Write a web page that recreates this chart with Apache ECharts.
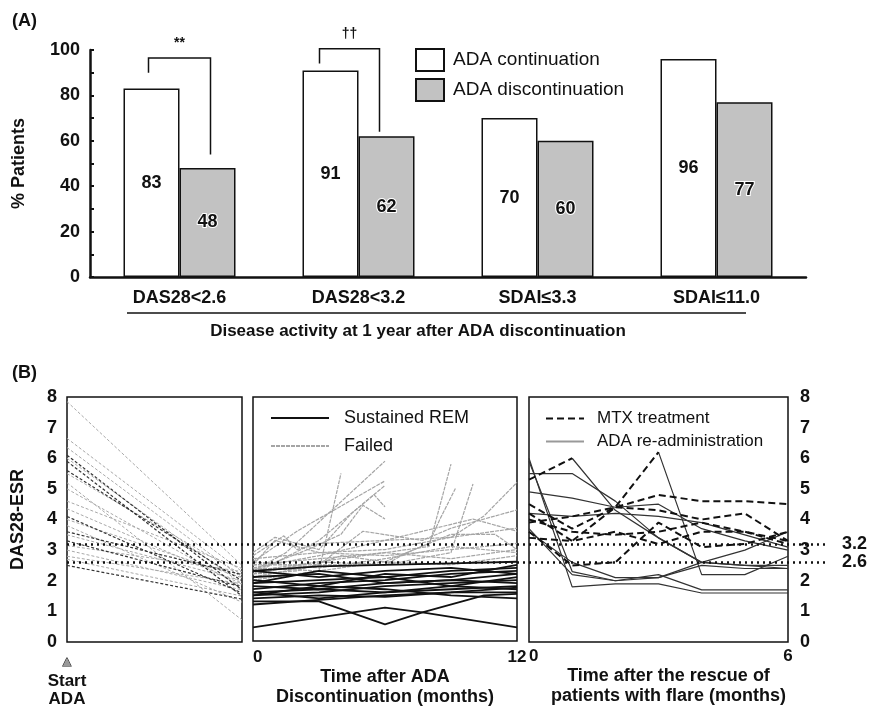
<!DOCTYPE html>
<html>
<head>
<meta charset="utf-8">
<script src="https://cdn.jsdelivr.net/npm/echarts@6/dist/echarts.min.js"></script>
<style>
  html, body { margin: 0; padding: 0; background: #fff; }
  #main { width: 870px; height: 708px; }
</style>
</head>
<body>
<div id="main"></div>
<script>
// (A) bar data
var categories = ["DAS28<2.6", "DAS28<3.2", "SDAI≤3.3", "SDAI≤11.0"];
var contValues = [83, 91, 70, 96];
var discValues = [48, 62, 60, 77];
// significance brackets: left leg end, top, right leg end (in % units)
var brackets = [
  { cat: 0, left: 90, top: 96.5, right: 54, mark: "**" },
  { cat: 1, left: 94, top: 100.5, right: 64, mark: "††" }
];

// (B) left panel: DAS28 at start ADA -> at discontinuation
var startDark = [[6.1, 1.7], [5.9, 1.5], [5.6, 2.0], [4.1, 1.6], [3.6, 2.2], [3.3, 1.8], [2.5, 1.4]];
var startLight = [[7.85, 2.5], [6.65, 2.3], [6.35, 2.1], [6.0, 1.9], [5.5, 2.2], [5.2, 0.72], [5.0, 1.8],
  [4.6, 2.4], [4.35, 1.9], [4.0, 2.1], [3.8, 1.3], [3.5, 2.0], [3.15, 2.3], [3.0, 1.7], [2.8, 1.9], [2.7, 1.5]];

// (B) middle panel: months after discontinuation
var remLines = [
  [[0, 0.45], [6, 1.1], [7.7, 0.94], [12, 0.45]],
  [[0, 1.3], [3, 1.3], [6, 0.55], [7.7, 0.94], [10.5, 1.5], [12, 1.55]],
  [[0, 1.5], [3, 1.6], [6, 1.8], [9, 1.9], [12, 2.0]],
  [[0, 1.6], [3, 1.7], [6, 1.6], [9, 1.8], [12, 1.7]],
  [[0, 1.7], [3, 1.9], [6, 2.0], [9, 2.2], [12, 2.3]],
  [[0, 1.9], [3, 2.0], [6, 2.1], [9, 2.3], [12, 2.4]],
  [[0, 2.0], [3, 1.8], [6, 2.2], [9, 2.1], [12, 2.5]],
  [[0, 2.3], [3, 2.45], [6, 2.5], [9, 2.55], [12, 2.6]],
  [[0, 1.4], [3, 1.5], [6, 1.45], [9, 1.6], [12, 1.6]],
  [[0, 1.8], [3, 1.7], [6, 1.9], [9, 2.0], [12, 1.9]],
  [[0, 2.1], [3, 2.2], [6, 1.9], [9, 2.0], [12, 2.2]],
  [[0, 1.6], [3, 1.4], [6, 1.6], [9, 1.7], [12, 1.8]],
  [[0, 2.3], [3, 2.1], [6, 2.3], [9, 2.4], [12, 2.2]],
  [[0, 1.5], [3, 1.8], [6, 1.7], [9, 1.5], [12, 1.4]],
  [[0, 1.9], [3, 2.3], [6, 2.1], [9, 1.8], [12, 2.1]],
  [[0, 1.2], [3, 1.35], [6, 1.5], [9, 1.6], [12, 1.75]]
];
var failedLines = [
  [[0, 2.4], [3, 2.3], [4, 5.5]],
  [[0, 2.3], [1.5, 2.9], [6, 5.9]],
  [[0, 2.6], [2, 3.6], [6, 5.25]],
  [[0, 2.2], [3, 3.3], [6, 5.1]],
  [[0, 2.5], [3, 2.7], [6, 2.9], [8, 3.1], [9, 5.8]],
  [[0, 2.2], [3, 2.6], [6, 2.5], [9, 2.9], [10, 5.15]],
  [[0, 2.7], [3, 2.9], [6, 3.0], [9, 3.4], [10.5, 4.1], [12, 5.2]],
  [[0, 2.4], [3, 2.8], [6, 3.3], [10, 4.0], [12, 3.6]],
  [[0, 2.3], [2.5, 3.0], [4, 3.5], [5, 4.45], [6, 4.0]],
  [[0, 2.8], [1.4, 3.45], [2, 3.0], [3, 3.2], [6, 3.3], [9, 3.4], [12, 3.7]],
  [[0, 2.5], [1, 3.3], [3, 2.9], [6, 2.8], [9, 3.0], [12, 3.2]],
  [[0, 2.3], [3, 2.6], [6, 2.9], [9, 2.7], [12, 3.0]],
  [[0, 2.6], [3, 2.4], [6, 2.7], [9, 3.1], [12, 2.9]],
  [[0, 2.1], [3, 2.5], [5, 3.6], [7.7, 3.3], [9, 3.7], [12, 4.3]],
  [[0, 2.2], [2, 2.3], [4, 2.8], [6, 2.6], [8, 3.2], [8.5, 4.0], [9.2, 5.0]],
  [[0, 2.9], [1, 3.4], [3, 3.0], [4.5, 4.2], [5.5, 4.8], [6, 4.4]],
  [[0, 2.0], [3, 2.3], [6, 2.6], [9, 2.5], [12, 2.8]],
  [[0, 2.5], [6, 2.5], [7, 2.9], [9, 3.5], [11, 3.5], [12, 3.0]]
];

// (B) right panel: months after rescue
var mtxLines = [
  [[0, 4.5], [1, 3.7], [2, 4.4], [3, 4.8], [4, 4.6], [5, 4.6], [6, 4.5]],
  [[0, 5.3], [1, 6.0]],
  [[0, 4.2], [1, 3.3], [2, 3.6], [3, 3.2], [4, 3.6], [5, 3.6], [6, 3.3]],
  [[0, 3.9], [1, 4.1], [2, 4.4], [3, 4.3], [4, 4.0], [5, 4.2], [6, 3.3]],
  [[0, 3.6], [1, 2.5], [2, 2.6], [3, 3.9], [4, 3.1], [5, 3.2], [6, 3.6]],
  [[0, 4.0], [1, 3.6], [2, 3.5], [3, 3.6], [4, 3.9], [5, 3.6], [6, 3.2]],
  [[0, 3.4], [1, 3.3], [2, 4.4], [3, 6.2]]
];
var adaLines = [
  [[0, 6.0], [1, 1.8], [2, 1.9], [3, 1.9], [4, 1.6], [5, 1.6], [6, 1.6]],
  [[0, 5.9], [1, 2.3], [2, 2.0], [3, 2.1], [4, 2.5], [5, 2.4], [6, 2.4]],
  [[0, 5.5], [1, 5.5], [2, 4.6], [3, 3.4], [4, 2.6], [5, 3.0], [6, 3.6]],
  [[0, 4.9], [1, 4.7], [2, 4.4], [3, 4.5], [4, 3.7], [5, 3.3], [6, 3.0]],
  [[0, 3.6], [1, 2.6], [2, 2.1], [3, 2.1], [4, 2.6], [5, 2.5], [6, 2.5]],
  [[0, 3.7], [1, 2.2], [2, 2.0], [3, 2.2], [4, 1.7], [5, 1.7], [6, 1.7]],
  [[1, 6.0], [2, 4.3], [3, 3.4], [4, 2.6], [5, 2.5], [6, 2.4]],
  [[3, 6.2], [4, 2.2], [5, 2.2], [6, 2.8]],
  [[0, 4.2], [1, 4.1], [2, 4.2], [3, 4.1], [4, 3.9], [5, 3.5], [6, 3.1]]
];
var refLevels = [3.2, 2.6];

var FONT = "'Liberation Sans', Arial, sans-serif";
var chart = echarts.init(document.getElementById("main"));

var series = [];
// bars
series.push({
  name: "ADA continuation", type: "bar", xAxisIndex: 0, yAxisIndex: 0,
  barWidth: 56, barGap: "0%", data: contValues,
  itemStyle: { color: "#fff", borderColor: "#111", borderWidth: 1.5 },
  label: { show: true, position: "inside", color: "#111", fontWeight: "bold", fontSize: 18, fontFamily: FONT }
});
series.push({
  name: "ADA discontinuation", type: "bar", xAxisIndex: 0, yAxisIndex: 0,
  barWidth: 56, data: discValues,
  itemStyle: { color: "#c2c2c2", borderColor: "#111", borderWidth: 1.5 },
  label: { show: true, position: "inside", color: "#111", fontWeight: "bold", fontSize: 18, fontFamily: FONT,
    textBorderColor: "#fff", textBorderWidth: 2 }
});

function addLines(list, axis, name, style) {
  list.forEach(function (pts) {
    series.push({
      name: name, type: "line", xAxisIndex: axis, yAxisIndex: axis,
      data: pts, symbol: "none", silent: true, animation: false,
      lineStyle: style, itemStyle: { color: style.color }
    });
  });
}
addLines(startLight.map(function (d) { return [[0, d[0]], [1, d[1]]]; }), 1, "startL",
  { color: "#a8a8a8", width: 1, type: [3, 2] });
addLines(startDark.map(function (d) { return [[0, d[0]], [1, d[1]]]; }), 1, "startD",
  { color: "#333", width: 1.2, type: [3, 2] });
addLines(failedLines, 2, "Failed", { color: "#a5a5a5", width: 1.2, type: [4, 1] });
addLines(remLines, 2, "Sustained REM", { color: "#111", width: 1.8 });
addLines(adaLines, 3, "ADA re-administration", { color: "#333", width: 1.2 });
addLines(mtxLines, 3, "MTX treatment", { color: "#111", width: 2, type: [7, 4] });

// dotted reference levels across panel B
series.push({
  type: "scatter", xAxisIndex: 4, yAxisIndex: 4, data: [], silent: true,
  markLine: {
    symbol: "none", silent: true, animation: false,
    lineStyle: { color: "#111", width: 2.5, type: [2, 4] },
    label: { position: "end", distance: 14, formatter: "{c}", color: "#111",
      fontWeight: "bold", fontSize: 18, fontFamily: FONT },
    data: refLevels.map(function (v) { return { yAxis: v }; })
  }
});

var boldLabel = { color: "#111", fontWeight: "bold", fontSize: 18, fontFamily: FONT };
var boxGrid = { show: true, borderColor: "#111", borderWidth: 1.5, backgroundColor: "transparent" };
var noSymbol = { opacity: 0, color: "transparent", borderWidth: 0 };

var option = {
  animation: false,
  textStyle: { fontFamily: FONT },
  grid: [
    { left: 90, top: 50, width: 716, height: 227 },
    Object.assign({ left: 67, top: 397, width: 175, height: 245 }, boxGrid),
    Object.assign({ left: 253, top: 397, width: 264, height: 245 }, boxGrid),
    Object.assign({ left: 529, top: 397, width: 259, height: 245 }, boxGrid),
    { left: 67, top: 397, width: 761, height: 245 }
  ],
  legend: [
    { data: ["ADA continuation", "ADA discontinuation"], orient: "vertical", left: 415, top: 48, padding: 0,
      itemWidth: 28, itemHeight: 22, itemGap: 6, icon: "rect",
      textStyle: { fontSize: 19, color: "#111", fontFamily: FONT, padding: [0, 0, 0, 4] } },
    { data: ["Sustained REM", "Failed"], orient: "vertical", left: 270, top: 409, padding: 0,
      itemWidth: 58, itemHeight: 14, itemGap: 10, itemStyle: noSymbol,
      textStyle: { fontSize: 18, color: "#111", fontFamily: FONT, padding: [0, 0, 0, 10] } },
    { data: ["MTX treatment", { name: "ADA re-administration", lineStyle: { color: "#999" } }],
      orient: "vertical", left: 545, top: 410, padding: 0,
      itemWidth: 38, itemHeight: 12, itemGap: 6, itemStyle: noSymbol,
      textStyle: { fontSize: 17, color: "#111", fontFamily: FONT, padding: [0, 0, 0, 8] } }
  ],
  xAxis: [
    { type: "category", gridIndex: 0, data: categories,
      axisLine: { lineStyle: { color: "#111", width: 2.5 } },
      axisTick: { show: false },
      axisLabel: Object.assign({ margin: 12 }, boldLabel) },
    { type: "value", gridIndex: 1, min: 0, max: 1, interval: 1,
      axisLine: { show: false }, axisTick: { show: false }, splitLine: { show: false },
      axisLabel: { margin: 10, formatter: function (v) { return v === 0 ? "{t|▲}\n{s|Start}\n{s|ADA}" : ""; },
        rich: {
          t: { fontSize: 14, color: "#999", textBorderColor: "#111", textBorderWidth: 1, lineHeight: 20, align: "center" },
          s: { fontSize: 17, fontWeight: "bold", color: "#111", lineHeight: 18, align: "center", fontFamily: FONT }
        } } },
    { type: "value", gridIndex: 2, min: 0, max: 12, interval: 12,
      axisLine: { show: false }, axisTick: { show: false }, splitLine: { show: false },
      axisLabel: Object.assign({ margin: 8, alignMinLabel: "left" }, boldLabel, { fontSize: 17 }),
      name: "Time after ADA\nDiscontinuation (months)", nameLocation: "middle", nameGap: 19,
      nameTextStyle: { fontSize: 18, fontWeight: "bold", color: "#111", lineHeight: 20, fontFamily: FONT } },
    { type: "value", gridIndex: 3, min: 0, max: 6, interval: 6,
      axisLine: { show: false }, axisTick: { show: false }, splitLine: { show: false },
      axisLabel: Object.assign({ margin: 6, alignMinLabel: "left" }, boldLabel, { fontSize: 17 }),
      name: "Time after the rescue of\npatients with flare (months)", nameLocation: "middle", nameGap: 18,
      nameTextStyle: { fontSize: 18, fontWeight: "bold", color: "#111", lineHeight: 20, fontFamily: FONT, padding: [0, 0, 0, 20] } },
    { type: "value", gridIndex: 4, min: 0, max: 1, show: false }
  ],
  yAxis: [
    { type: "value", gridIndex: 0, min: 0, max: 100, interval: 10,
      axisLine: { show: true, lineStyle: { color: "#111", width: 2.5 } },
      axisTick: { show: true, inside: true, length: 4, lineStyle: { color: "#111", width: 2 } },
      splitLine: { show: false },
      axisLabel: Object.assign({ margin: 10, formatter: function (v) { return v % 20 === 0 ? v : ""; } }, boldLabel),
      name: "% Patients", nameLocation: "middle", nameGap: 62,
      nameTextStyle: { fontSize: 18, fontWeight: "bold", color: "#111", fontFamily: FONT } },
    { type: "value", gridIndex: 1, min: 0, max: 8, interval: 1,
      axisLine: { show: false }, axisTick: { show: false }, splitLine: { show: false },
      axisLabel: Object.assign({ margin: 10 }, boldLabel),
      name: "DAS28-ESR", nameLocation: "middle", nameGap: 40,
      nameTextStyle: { fontSize: 18, fontWeight: "bold", color: "#111", fontFamily: FONT } },
    { type: "value", gridIndex: 2, min: 0, max: 8, interval: 1,
      axisLine: { show: false }, axisTick: { show: false }, splitLine: { show: false }, axisLabel: { show: false } },
    { type: "value", gridIndex: 3, min: 0, max: 8, interval: 1, position: "right",
      axisLine: { show: false }, axisTick: { show: false }, splitLine: { show: false },
      axisLabel: Object.assign({ margin: 12 }, boldLabel) },
    { type: "value", gridIndex: 4, min: 0, max: 8, show: false }
  ],
  series: series
};

chart.setOption(option);

// brackets, panel labels and the group title
var graphics = [
  { type: "text", left: 12, top: 12, style: { text: "(A)", font: "bold 18px " + FONT, fill: "#111" } },
  { type: "text", left: 12, top: 364, style: { text: "(B)", font: "bold 18px " + FONT, fill: "#111" } },
  { type: "line", shape: { x1: 127, y1: 313, x2: 746, y2: 313 }, style: { stroke: "#111", lineWidth: 1.5 } },
  { type: "text", x: 418, y: 331, style: { text: "Disease activity at 1 year after ADA discontinuation",
      font: "bold 17px " + FONT, fill: "#111", align: "center", verticalAlign: "middle" } }
];
var legOffsets = [[-31, 31], [-39, 21]];
brackets.forEach(function (b, i) {
  var cx = chart.convertToPixel({ xAxisIndex: 0 }, categories[b.cat]);
  var py = function (v) { return chart.convertToPixel({ yAxisIndex: 0 }, v); };
  var xl = cx + legOffsets[i][0], xr = cx + legOffsets[i][1];
  graphics.push({ type: "polyline",
    shape: { points: [[xl, py(b.left)], [xl, py(b.top)], [xr, py(b.top)], [xr, py(b.right)]] },
    style: { stroke: "#111", lineWidth: 1.5, fill: null } });
  graphics.push({ type: "text", x: (xl + xr) / 2, y: py(b.top) - 15,
    style: { text: b.mark, font: "bold 14px " + FONT, fill: "#111", align: "center", verticalAlign: "middle" } });
});
chart.setOption({ graphic: graphics });
</script>
</body>
</html>
